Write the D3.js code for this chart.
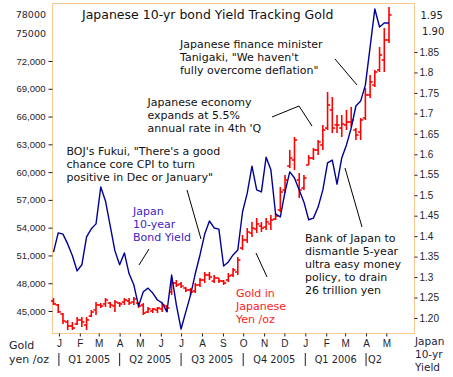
<!DOCTYPE html>
<html>
<head>
<meta charset="utf-8">
<script src="https://cdn.jsdelivr.net/npm/d3@7"></script>
<style>
body { margin: 0; background: #fff; }
svg { display: block; font-family: "DejaVu Sans", Verdana, sans-serif; }
</style>
</head>
<body>
<svg id="chart" width="453" height="377"></svg>
<script>
// weekly bars, Friday to Friday
const firstWeek = new Date(2005, 0, 7);
const lastWeek = new Date(2006, 4, 19);

// gold in yen per ounce
const goldOpen = [46080, 45650, 44680, 43810, 43380, 43600, 44030, 43490, 44460, 45110, 45650, 45760, 45860, 45540, 45860, 45970, 46080, 45970, 45860, 45650, 44890, 45000, 45110, 45220, 45540, 47050, 48020, 47920, 47480, 47270, 47160, 47810, 48350, 48890, 48240, 48560, 48240, 48350, 48890, 49210, 51800, 52670, 53420, 53860, 54180, 54070, 54400, 54930, 55910, 58070, 60660, 61310, 59150, 58280, 60770, 61520, 62390, 62930, 64760, 66710, 65090, 64760, 65090, 65410, 64550, 64330, 65840, 68330, 69410, 71030, 72110, 74270];
const goldHigh = [46400, 45760, 44780, 44030, 43810, 44350, 44350, 44350, 45110, 45970, 45860, 46400, 45970, 46190, 45970, 46400, 46400, 46510, 45970, 45860, 45430, 45320, 45430, 45860, 45650, 48350, 48350, 48130, 47590, 47480, 48020, 48560, 49210, 49210, 48890, 48560, 48350, 49100, 49640, 50830, 53210, 53960, 54610, 55040, 54610, 55040, 55370, 55580, 58390, 59690, 62390, 63790, 59900, 59690, 61850, 62600, 63470, 65090, 68650, 68110, 66170, 66170, 66710, 67030, 64760, 65840, 69080, 70490, 71030, 73510, 75560, 77830];
const goldLow = [45650, 44780, 43600, 42950, 42950, 43490, 43270, 42950, 44350, 44570, 45320, 45430, 45320, 44890, 45430, 45650, 45650, 45650, 45320, 44570, 44780, 44780, 44780, 44890, 44890, 46730, 47590, 47480, 47050, 46730, 46940, 47590, 48020, 48350, 48020, 48020, 47810, 48130, 48670, 48890, 51590, 52340, 52990, 53420, 53530, 53750, 53750, 54830, 55690, 57740, 60440, 60230, 57200, 58070, 60770, 61310, 61850, 62390, 64550, 64220, 64220, 63790, 64550, 64870, 63470, 63470, 65630, 68000, 69190, 70810, 70810, 73940];
const goldClose = [45760, 44900, 43920, 43380, 43160, 44030, 43810, 44030, 44890, 45650, 45540, 46190, 45650, 45970, 45760, 46190, 45860, 46300, 45540, 44780, 45220, 45220, 45320, 45650, 45320, 48020, 47810, 47700, 47270, 47050, 47810, 48350, 48890, 48670, 48560, 48240, 48020, 48780, 49430, 50510, 52670, 53530, 53960, 54400, 53960, 54610, 54830, 55260, 57850, 59150, 61520, 63470, 58070, 59360, 61520, 62390, 63250, 64550, 67250, 64760, 65090, 65200, 65410, 65630, 64010, 65630, 68330, 69730, 70810, 72650, 74270, 76970];

// Japan 10-year government bond yield, %
const bondYield = [1.361, 1.408, 1.405, 1.381, 1.352, 1.315, 1.330, 1.398, 1.418, 1.430, 1.520, 1.486, 1.425, 1.364, 1.330, 1.359, 1.308, 1.281, 1.229, 1.264, 1.273, 1.261, 1.244, 1.237, 1.215, 1.305, 1.232, 1.173, 1.215, 1.256, 1.308, 1.354, 1.405, 1.437, 1.420, 1.417, 1.327, 1.337, 1.354, 1.366, 1.459, 1.505, 1.571, 1.513, 1.508, 1.593, 1.562, 1.454, 1.447, 1.508, 1.557, 1.542, 1.513, 1.483, 1.440, 1.444, 1.471, 1.513, 1.579, 1.586, 1.527, 1.591, 1.623, 1.664, 1.718, 1.730, 1.769, 1.862, 1.955, 1.911, 1.921, 1.921];

const goldTicks = [45000, 48000, 51000, 54000, 57000, 60000, 63000, 66000, 69000, 72000];
const goldExtraLabels = ["75000", "78000"];
const yieldTicks = [1.20, 1.25, 1.30, 1.35, 1.40, 1.45, 1.50, 1.55, 1.60, 1.65, 1.70, 1.75, 1.80, 1.85];
const yieldTickLabels = ["1.20", "1.25", "1.3", "1.35", "1.4", "1.45", "1.5", "1.55", "1.6", "1.65", "1.7", "1.75", "1.8", "1.85"];
const yieldExtraLabels = ["1.90", "1.95"];
const monthLabels = ["J", "F", "M", "A", "M", "J", "J", "A", "S", "O", "N", "D", "J", "F", "M", "A", "M"];
const quarterLabels = ["Q1 2005", "Q2 2005", "Q3 2005", "Q4 2005", "Q1 2006", "Q2"];

const ink = "#1e1e2e";

class GoldYieldChart {
    constructor(selector) {
        this.svg = d3.select(selector);
        this.left = 52.5;
        this.right = 414.5;
        this.top = 3.5;
        this.bottom = 333.5;

        this.weeks = d3.timeFriday.range(firstWeek, d3.timeDay.offset(lastWeek, 1));
        this.x = d3.scaleTime().domain([firstWeek, lastWeek]).range([53.5, 389]);
        this.yGold = d3.scaleLinear().domain([42570, 78210]).range([this.bottom, this.top]);
        this.yBond = d3.scaleLinear().domain([1.1621, 1.9685]).range([this.bottom, this.top]);
    }

    initialize() {
        this.drawFrame();
        this.drawGold();
        this.drawYield();
        this.drawAxes();
        this.drawNotes();
    }

    drawFrame() {
        this.svg.append('rect')
            .attr('x', this.left)
            .attr('y', this.top)
            .attr('width', this.right - this.left)
            .attr('height', this.bottom - this.top)
            .attr('fill', '#fff')
            .attr('stroke', '#f9c993')
            .attr('stroke-width', 1);
    }

    drawGold() {
        const bars = this.weeks.map((d, i) => ({
            date: d, open: goldOpen[i], high: goldHigh[i], low: goldLow[i], close: goldClose[i]
        }));
        const g = this.svg.append('g')
            .attr('stroke', '#ff0000')
            .attr('stroke-width', 1.6);

        const bar = g.selectAll('g').data(bars).join('g')
            .attr('transform', d => `translate(${this.x(d.date)},0)`);
        bar.append('line')
            .attr('y1', d => this.yGold(d.high))
            .attr('y2', d => this.yGold(d.low));
        bar.append('line')
            .attr('x1', -2.6).attr('x2', 0)
            .attr('y1', d => this.yGold(d.open))
            .attr('y2', d => this.yGold(d.open));
        bar.append('line')
            .attr('x1', 0).attr('x2', 2.6)
            .attr('y1', d => this.yGold(d.close))
            .attr('y2', d => this.yGold(d.close));
    }

    drawYield() {
        const line = d3.line()
            .x((d, i) => this.x(this.weeks[i]))
            .y(d => this.yBond(d));
        this.svg.append('path')
            .datum(bondYield)
            .attr('d', line)
            .attr('fill', 'none')
            .attr('stroke', '#000096')
            .attr('stroke-width', 1.4)
            .attr('stroke-linejoin', 'round');
    }

    drawAxes() {
        const left = this.svg.append('g')
            .attr('transform', `translate(${this.left},0)`)
            .call(d3.axisLeft(this.yGold)
                .tickValues(goldTicks)
                .tickSize(4)
                .tickPadding(3)
                .tickFormat(d3.format(',')));
        left.select('.domain').remove();
        left.selectAll('line').attr('stroke', ink);
        left.selectAll('text').attr('fill', ink).style('font-size', '9.5px').style('font-family', null);

        // top two labels have no tick
        this.svg.append('g').selectAll('text').data(goldExtraLabels).join('text')
            .attr('x', 46)
            .attr('y', d => Math.max(this.yGold(+d), 14) + 3.5)
            .attr('text-anchor', 'end')
            .attr('fill', ink)
            .style('font-size', '9.5px')
            .text(d => d);

        const right = this.svg.append('g')
            .attr('transform', `translate(${this.right},0)`)
            .call(d3.axisRight(this.yBond)
                .tickValues(yieldTicks)
                .tickSize(3)
                .tickPadding(2)
                .tickFormat((d, i) => yieldTickLabels[i]));
        right.select('.domain').remove();
        right.selectAll('line').attr('stroke', ink);
        right.selectAll('text').attr('fill', ink).style('font-size', '10px').style('font-family', null);

        this.svg.append('g').selectAll('text').data(yieldExtraLabels).join('text')
            .attr('x', (d, i) => 422 - i * 1.5)
            .attr('y', d => Math.max(this.yBond(+d), 15) + 3.5)
            .attr('fill', ink)
            .style('font-size', '10px')
            .text(d => d);

        const months = monthLabels.map((m, i) => new Date(2005, i, 15));
        const bottom = this.svg.append('g')
            .attr('transform', `translate(0,${this.bottom})`)
            .call(d3.axisBottom(this.x)
                .tickValues(months)
                .tickSize(3)
                .tickPadding(3)
                .tickFormat((d, i) => monthLabels[i]));
        bottom.select('.domain').remove();
        bottom.selectAll('line').attr('stroke', ink);
        bottom.selectAll('text').attr('fill', ink).style('font-size', '10px').style('font-family', null);

        // quarter row
        const starts = quarterLabels.map((q, i) => months[i * 3]);
        const q = this.svg.append('g').attr('fill', ink).style('font-size', '9.8px');
        q.selectAll('line').data(starts).join('line')
            .attr('x1', d => this.x(d)).attr('x2', d => this.x(d))
            .attr('y1', 353).attr('y2', 366)
            .attr('stroke', ink)
            .attr('stroke-width', 1);
        q.selectAll('text').data(quarterLabels).join('text')
            .attr('x', (d, i) => i < 5 ? (this.x(starts[i]) + this.x(months[i * 3 + 3])) / 2 : this.x(starts[i]) + 2)
            .attr('y', 363)
            .attr('text-anchor', (d, i) => i < 5 ? 'middle' : 'start')
            .text(d => d);

        const unitsLeft = this.svg.append('text')
            .attr('fill', ink).style('font-size', '11px');
        unitsLeft.append('tspan').attr('x', 9).attr('y', 349).text('Gold');
        unitsLeft.append('tspan').attr('x', 9).attr('y', 363).text('yen /oz');

        const unitsRight = this.svg.append('text')
            .attr('fill', '#1e1e3e').style('font-size', '10.5px');
        ['Japan', '10-yr', 'Yield'].forEach((t, i) => {
            unitsRight.append('tspan').attr('x', 415).attr('y', 345 + i * 13).text(t);
        });
    }

    drawNotes() {
        this.svg.append('text')
            .attr('x', 82)
            .attr('y', 19)
            .attr('fill', '#111')
            .style('font-size', '12.5px')
            .text('Japanese 10-yr bond Yield Tracking Gold');

        const notes = [
            { x: 180, y: 48, color: '#111', lines: ['Japanese finance minister', 'Tanigaki, "We haven\'t', 'fully overcome deflation"'] },
            { x: 147.5, y: 106, color: '#111', lines: ['Japanese economy', 'expands at 5.5%', 'annual rate in 4th \'Q'] },
            { x: 66.5, y: 155, color: '#111', lines: ['BOJ\'s Fukui, "There\'s a good', 'chance core CPI to turn', 'positive in Dec or January"'] },
            { x: 133, y: 215, color: '#4024c0', lines: ['Japan', '10-year', 'Bond Yield'] },
            { x: 236, y: 297, color: '#ff1a1a', lines: ['Gold in', 'Japanese', 'Yen /oz'] },
            { x: 305, y: 242, color: '#111', lines: ['Bank of Japan to', 'dismantle 5-year', 'ultra easy money', 'policy, to drain', '26 trillion yen'] }
        ];
        notes.forEach(n => {
            const t = this.svg.append('text')
                .attr('fill', n.color)
                .style('font-size', '11px');
            n.lines.forEach((s, i) => {
                t.append('tspan').attr('x', n.x).attr('y', n.y + i * 13).text(s);
            });
        });

        const leaders = [
            [[335, 59], [357, 85]],
            [[272, 117], [299, 106], [312, 126]],
            [[187, 190], [201, 239]],
            [[139, 265], [149, 249]],
            [[256, 253], [267, 277]],
            [[345, 168], [362, 227]]
        ];
        this.svg.append('g').selectAll('path').data(leaders).join('path')
            .attr('d', d3.line())
            .attr('fill', 'none')
            .attr('stroke', '#000')
            .attr('stroke-width', 1);
    }
}

const chart = new GoldYieldChart('#chart');
chart.initialize();
</script>
</body>
</html>
